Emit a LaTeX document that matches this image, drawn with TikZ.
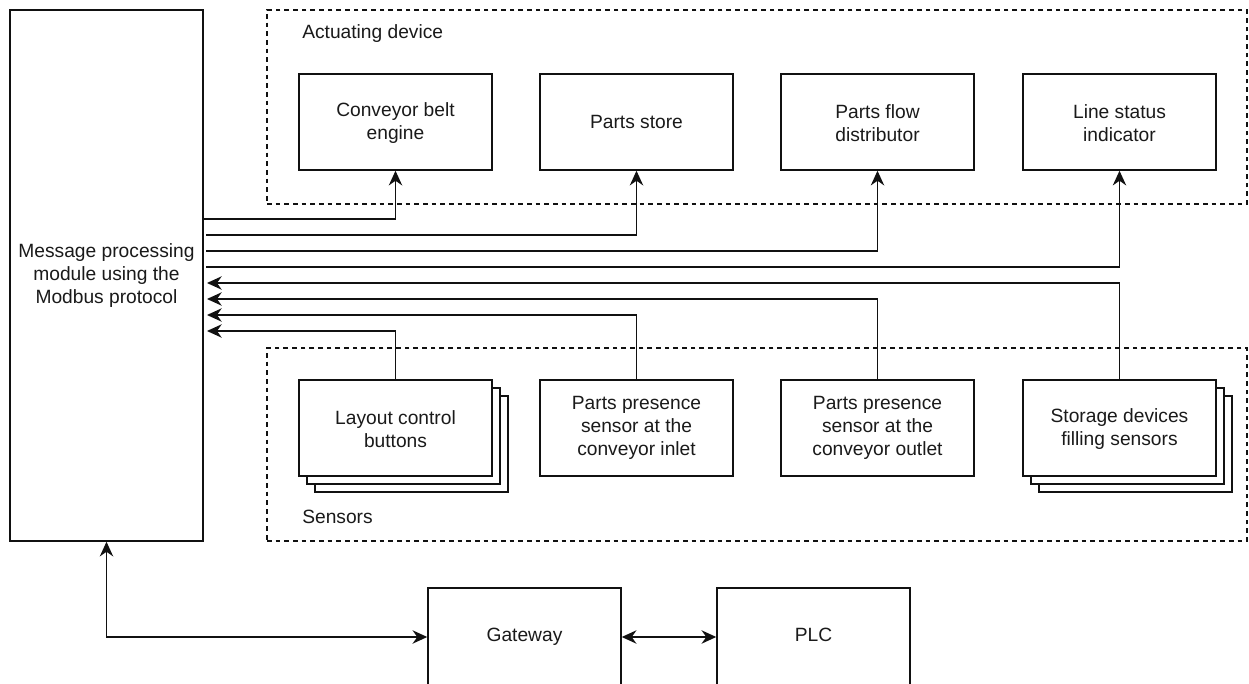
\documentclass[tikz,border=0pt]{standalone}
\usepackage{fontspec}
\setmainfont{Liberation Sans}
\usetikzlibrary{arrows.meta,calc}
\definecolor{txt}{HTML}{1A1A1A}
\definecolor{ln}{HTML}{111111}
\begin{document}
\begin{tikzpicture}[x=0.75pt,y=-0.75pt,
  tip/.tip={Stealth[length=11pt,width=10pt,inset=3.5pt]},
  box/.style={draw=ln,line width=1.1pt,fill=white,minimum width=144.75pt,minimum height=72pt,inner sep=0pt,align=center,font=\fontsize{14.4}{17.5}\selectfont,text=txt},
  grp/.style={draw=ln,line width=1.1pt,dash pattern=on 3.5pt off 3pt,inner sep=0pt,minimum width=735pt},
  lbl/.style={anchor=west,inner sep=0pt,font=\fontsize{14.4}{17.5}\selectfont,text=txt},
  conn/.style={draw=ln,line width=1.2pt,-tip},
  dconn/.style={draw=ln,line width=1.2pt,tip-tip}
]
\useasboundingbox[fill=white] (0,0) rectangle (1249,684);
% groups
\node[grp,minimum height=145.5pt] (act) at (757,107) {};
\node[grp,minimum height=144.75pt] (sen) at (757,444.5) {};
\node[lbl] (actl) at (302,34) {Actuating device};
\node[lbl] (senl) at (302,517) {Sensors};
% main module
\node[box,minimum height=398.25pt] (mm) at (106.5,275.5) {Message processing\\module using the\\Modbus protocol};
% actuators
\node[box] (ce) at (395.5,122) {\strut Conveyor belt\\engine};
\node[box] (ps) at (636.5,122) {Parts store};
\node[box] (pf) at (877.5,122) {\strut Parts flow\\distributor};
\node[box] (ls) at (1119.5,122) {\strut Line status\\indicator};
% sensors
\node[box] (lc3) at (411.5,444) {};
\node[box] (lc2) at (403.5,436) {};
\node[box] (lc) at (395.5,428) {\strut Layout control\\buttons};
\node[box] (pi) at (636.5,428) {Parts presence\\sensor at the\\conveyor inlet};
\node[box] (po) at (877.5,428) {Parts presence\\sensor at the\\conveyor outlet};
\node[box] (ss3) at (1135.5,444) {};
\node[box] (ss2) at (1127.5,436) {};
\node[box] (ss) at (1119.5,428) {\strut Storage devices\\filling sensors};
% bottom
\node[box,minimum height=73.5pt] (gw) at (524.5,637) {\strut Gateway};
\node[box,minimum height=73.5pt] (plc) at (813.5,637) {\strut PLC};
% outgoing
\coordinate (o1) at (203,219);
\coordinate (o2) at (206,235);
\coordinate (o3) at (206,251);
\coordinate (o4) at (206,267);
\draw[conn] (o1) -| (ce.south);
\draw[conn] (o2) -| (ps.south);
\draw[conn] (o3) -| (pf.south);
\draw[conn] (o4) -| (ls.south);
% incoming
\coordinate (i1) at (207,283);
\coordinate (i2) at (207,299);
\coordinate (i3) at (207,315);
\coordinate (i4) at (207,331);
\draw[conn] (ss.north) |- (i1);
\draw[conn] (po.north) |- (i2);
\draw[conn] (pi.north) |- (i3);
\draw[conn] (lc.north) |- (i4);
% bottom links
\draw[dconn] (mm.south) |- (gw.west);
\draw[dconn] (gw.east) -- (plc.west);
\end{tikzpicture}
\end{document}
